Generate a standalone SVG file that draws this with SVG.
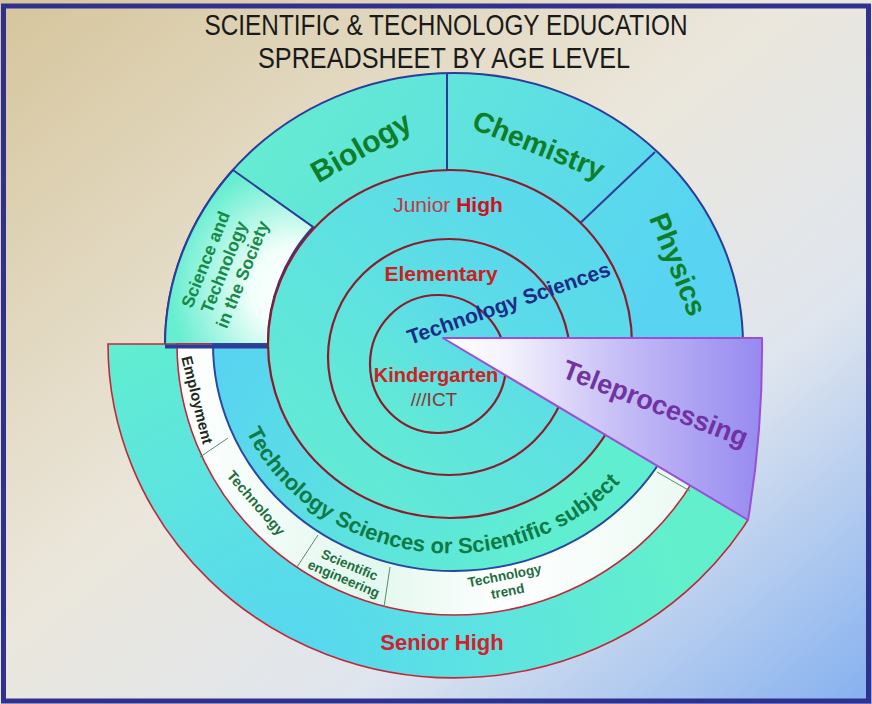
<svg xmlns="http://www.w3.org/2000/svg" width="872" height="704" viewBox="0 0 872 704">
<defs>
<linearGradient id="bg" x1="0" y1="0" x2="1" y2="1">
<stop offset="0" stop-color="#d6c59c"/>
<stop offset="0.45" stop-color="#ebe7dc"/>
<stop offset="0.7" stop-color="#dfe5ee"/>
<stop offset="1" stop-color="#84b0f0"/>
</linearGradient>
<linearGradient id="upper" x1="0" y1="0" x2="1" y2="0.3">
<stop offset="0" stop-color="#68f2c8"/>
<stop offset="1" stop-color="#58d4f2"/>
</linearGradient>
<radialGradient id="sci" gradientUnits="userSpaceOnUse" cx="295" cy="290" r="125">
<stop offset="0" stop-color="#ffffff"/>
<stop offset="0.35" stop-color="#f2fffa"/>
<stop offset="1" stop-color="#66eed0"/>
</radialGradient>
<radialGradient id="senior" gradientUnits="userSpaceOnUse" cx="290" cy="660" r="400">
<stop offset="0" stop-color="#56d6f0"/>
<stop offset="0.45" stop-color="#5ce2e2"/>
<stop offset="1" stop-color="#62f0cc"/>
</radialGradient>
<linearGradient id="white" gradientUnits="userSpaceOnUse" x1="180" y1="0" x2="730" y2="0">
<stop offset="0" stop-color="#ffffff"/>
<stop offset="0.35" stop-color="#e2f8ee"/>
<stop offset="0.6" stop-color="#ffffff"/>
<stop offset="1" stop-color="#e6f9f0"/>
</linearGradient>
<linearGradient id="blueband" gradientUnits="userSpaceOnUse" x1="220" y1="380" x2="520" y2="570">
<stop offset="0" stop-color="#58d4f0"/>
<stop offset="1" stop-color="#60eed0"/>
</linearGradient>
<linearGradient id="ring" x1="0" y1="1" x2="1" y2="0">
<stop offset="0" stop-color="#64eed0"/>
<stop offset="1" stop-color="#58d4f2"/>
</linearGradient>
<linearGradient id="wedge" gradientUnits="userSpaceOnUse" x1="443" y1="0" x2="762" y2="0">
<stop offset="0" stop-color="#ffffff"/>
<stop offset="0.2" stop-color="#f4f2fc"/>
<stop offset="0.55" stop-color="#c6bef6"/>
<stop offset="1" stop-color="#968af0"/>
</linearGradient>
<clipPath id="lowclip">
<path d="M0,342 L446,340 L900,611 L900,704 L0,704 Z"/>
</clipPath>
<path id="arcText" d="M244,427 A225,208 0 0 0 624,478.4"/>
<style>
.upper{stroke:#2c3c98;stroke-width:2}
.div{stroke:#2c3c98;stroke-width:2;fill:none}
.red{stroke:#c0283a;stroke-width:1.6}
.circ{fill:url(#ring);stroke:#8c1c2c;stroke-width:2.2}
.wdiv{stroke:#5a8a6a;stroke-width:1;fill:none}
.t{font-family:"Liberation Sans",Arial,sans-serif;text-anchor:middle}
.b{font-weight:bold}
.green{fill:#0e7e28}
.sgreen{fill:#178a48}
.dgreen{fill:#1e6e40}
.title{font-family:"Liberation Sans Narrow","Arial Narrow","Liberation Sans",sans-serif;font-size:29px;fill:#1a1a1a;text-anchor:middle}
</style>
</defs>

<g id="background">
<rect x="0" y="0" width="872" height="704" fill="url(#bg)"/>
<rect x="3.5" y="6" width="865" height="695" fill="none" stroke="#30308e" stroke-width="5"/>
</g>

<g id="node-title">
<text class="title" x="446" y="35" textLength="483" lengthAdjust="spacingAndGlyphs">SCIENTIFIC &amp; TECHNOLOGY EDUCATION</text>
<text class="title" x="444" y="68" textLength="372" lengthAdjust="spacingAndGlyphs">SPREADSHEET BY AGE LEVEL</text>
</g>

<g id="node-upper-band">
<path class="upper" fill="url(#upper)" d="M165,345 A289,272 0 0 1 743,345 Z"/>
<path id="node-science-sector" class="upper" fill="url(#sci)" d="M165,345 A289,272 0 0 1 233,170 L313,227 A182,174 0 0 0 268,344 Z"/>
<line class="div" x1="447" y1="73" x2="447" y2="180"/>
<line class="div" x1="655" y1="152" x2="575" y2="228"/>
</g>

<g id="node-lower-band" clip-path="url(#lowclip)">
<path class="red" fill="url(#senior)" d="M108,344 A346,334 0 0 0 800,344 Z"/>
<path class="red" fill="url(#white)" d="M177,344 A277,271 0 0 0 731,344 Z"/>
<path fill="url(#blueband)" stroke="#2a48a0" stroke-width="2" d="M213,344 A241,227 0 0 0 695,344 Z"/>
</g>

<g id="connectors">
<line class="wdiv" x1="228" y1="438" x2="200" y2="457"/>
<line class="wdiv" x1="318" y1="535" x2="297" y2="567"/>
<line class="wdiv" x1="390" y1="567" x2="384" y2="607"/>
<line class="wdiv" x1="657" y1="472" x2="690" y2="491"/>
<line x1="165" y1="346.5" x2="268" y2="346.5" stroke="#2c3c98" stroke-width="4"/>
</g>

<g id="node-junior-high">
<ellipse class="circ" cx="450" cy="344" rx="182" ry="174"/>
</g>
<g id="node-elementary">
<ellipse class="circ" cx="449" cy="357" rx="121" ry="118"/>
</g>
<g id="node-kindergarten">
<ellipse class="circ" cx="438" cy="364" rx="68" ry="69"/>
</g>

<g id="node-teleprocessing">
<path d="M443,338 L762,338 Q763,430 748,520 Z" fill="url(#wedge)" stroke="#9b4fd8" stroke-width="2" stroke-linejoin="round"/>
<text class="t b" font-size="27" fill="#7232a4" transform="translate(652,412) rotate(21)">Teleprocessing</text>
</g>

<g id="labels">
<text class="t b green" font-size="30" transform="translate(366,156) rotate(-30)">Biology</text>
<text class="t b green" font-size="28.5" transform="translate(535,154) rotate(22)">Chemistry</text>
<text class="t b green" font-size="28.5" transform="translate(669,268) rotate(68)">Physics</text>
<g transform="translate(224,267) rotate(-68)">
<text class="t b sgreen" font-size="17.5" x="0" y="-14">Science and</text>
<text class="t b sgreen" font-size="17.5" x="0" y="6">Technology</text>
<text class="t b sgreen" font-size="17.5" x="0" y="26">in the Society</text>
</g>
<text class="t" font-size="21" x="448" y="212"><tspan fill="#c03848">Junior </tspan><tspan class="b" fill="#d01020">High</tspan></text>
<text class="t b" font-size="21" fill="#cc2020" x="441" y="281">Elementary</text>
<text class="t b" font-size="21" fill="#1c2c84" transform="translate(511,310) rotate(-19)">Technology Sciences</text>
<text class="t b" font-size="20" fill="#d02020" x="436" y="382">Kindergarten</text>
<text class="t" font-size="19" fill="#8a3535" x="434" y="406">///ICT</text>
<text class="t b" font-size="22" fill="#0e7a45"><textPath href="#arcText" startOffset="50%">Technology Sciences or Scientific subject</textPath></text>
<text class="t b" font-size="15" fill="#1c2b1c" transform="translate(197,400) rotate(76)" y="5">Employment</text>
<text class="t b dgreen" font-size="14.5" transform="translate(256,503) rotate(49)" y="5">Technology</text>
<g transform="translate(347,571) rotate(23)">
<text class="t b dgreen" font-size="13.5" y="-2">Scientific</text>
<text class="t b dgreen" font-size="13.5" y="13">engineering</text>
</g>
<g transform="translate(506,583) rotate(-11)">
<text class="t b dgreen" font-size="13.5" y="-3">Technology</text>
<text class="t b dgreen" font-size="13.5" y="13">trend</text>
</g>
<text class="t b" font-size="22" fill="#d4202c" x="442" y="650">Senior High</text>
</g>
</svg>
